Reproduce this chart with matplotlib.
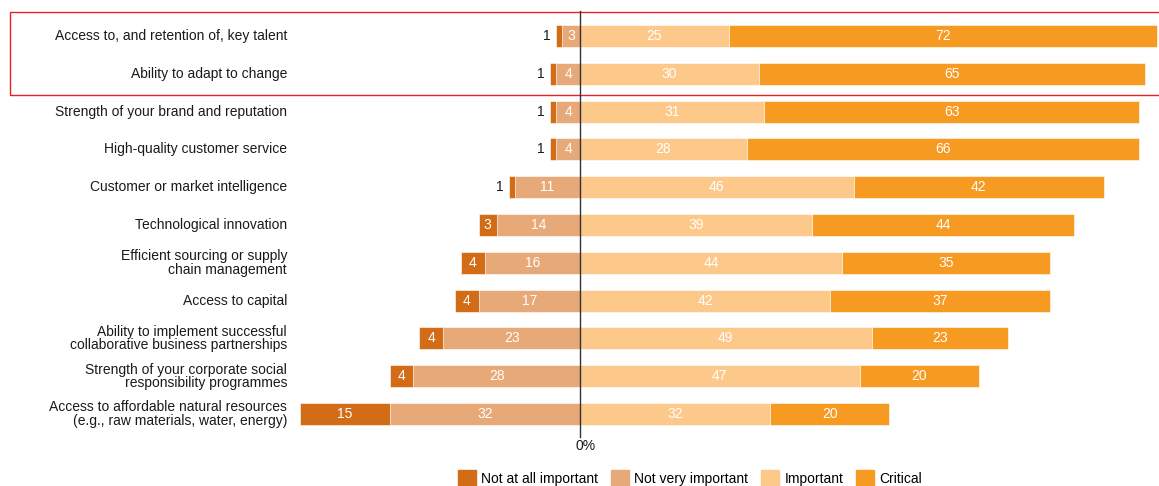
import matplotlib.pyplot as plt
from matplotlib.patches import Rectangle

categories = [
    "Access to, and retention of, key talent",
    "Ability to adapt to change",
    "Strength of your brand and reputation",
    "High-quality customer service",
    "Customer or market intelligence",
    "Technological innovation",
    "Efficient sourcing or supply\nchain management",
    "Access to capital",
    "Ability to implement successful\ncollaborative business partnerships",
    "Strength of your corporate social\nresponsibility programmes",
    "Access to affordable natural resources\n(e.g., raw materials, water, energy)",
]
not_at_all = [1, 1, 1, 1, 1, 3, 4, 4, 4, 4, 15]
not_very = [3, 4, 4, 4, 11, 14, 16, 17, 23, 28, 32]
important = [25, 30, 31, 28, 46, 39, 44, 42, 49, 47, 32]
critical = [72, 65, 63, 66, 42, 44, 35, 37, 23, 20, 20]
series_names = ["Not at all important", "Not very important", "Important", "Critical"]
colors = ["#D26C17", "#E6A977", "#FDC98B", "#F79A22"]

plt.rcParams['font.family'] = ['Liberation Sans', 'DejaVu Sans']

W, H = 1159, 486
fig = plt.figure(figsize=(W / 100, H / 100), dpi=100)
ax_left_px, ax_right_px = 290, 1159
zero_px = 580
ppu = 5.95
xmin = -(zero_px - ax_left_px) / ppu
xmax = (ax_right_px - zero_px) / ppu
ax = fig.add_axes([ax_left_px / W, 1 - 433 / H, (ax_right_px - ax_left_px) / W, (433 - 17) / H])
ax.set_xlim(xmin, xmax)
ax.set_ylim(len(categories) - 0.5, -0.5)
ax.axis('off')

bh = 0.58
ys = list(range(len(categories)))
fs = 10
vfs = 10
for i, y in enumerate(ys):
    nv = not_very[i]
    na = not_at_all[i]
    imp = important[i]
    cr = critical[i]
    # left side
    ax.barh(y, -nv, left=0, height=bh, color=colors[1], edgecolor='white', linewidth=0.4)
    ax.barh(y, -na, left=-nv, height=bh, color=colors[0], edgecolor='white', linewidth=0.4)
    # right side
    ax.barh(y, imp, left=0, height=bh, color=colors[2], edgecolor='white', linewidth=0.4)
    ax.barh(y, cr, left=imp, height=bh, color=colors[3], edgecolor='white', linewidth=0.4)
    # labels
    ax.text(-nv / 2, y, str(nv), ha='center', va='center', color='white', fontsize=vfs)
    if na >= 3:
        ax.text(-nv - na / 2, y, str(na), ha='center', va='center', color='white', fontsize=vfs)
    else:
        ax.text(-nv - na - 0.9, y, str(na), ha='right', va='center', color='#1a1a1a', fontsize=vfs)
    ax.text(imp / 2, y, str(imp), ha='center', va='center', color='white', fontsize=vfs)
    ax.text(imp + cr / 2, y, str(cr), ha='center', va='center', color='white', fontsize=vfs)
    ax.text(xmin - 0.5, y, categories[i], ha='right', va='center', color='#1a1a1a',
            fontsize=fs, linespacing=0.95, clip_on=False)

# zero line
fig.add_artist(plt.Line2D([zero_px / W, zero_px / W], [1 - 11 / H, 1 - 437 / H],
                          color='#333333', linewidth=1.0))
fig.text(586 / W, 1 - 446 / H, "0%", ha='center', va='center', fontsize=fs, color='#1a1a1a')

# red highlight box
fig.add_artist(Rectangle((10 / W, 1 - 95 / H), (W + 5 - 10) / W, (95 - 12) / H,
                         fill=False, edgecolor='#E8202A', linewidth=1.0, transform=fig.transFigure))

# legend
handles = [Rectangle((0, 0), 1, 1, color=c) for c in colors]
fig.legend(handles, series_names, loc='center', bbox_to_anchor=(690 / W, 1 - 478 / H), ncol=4,
           frameon=False, fontsize=fs, handlelength=1.3, handleheight=1.3, handletextpad=0.4,
           columnspacing=0.9, borderaxespad=0, borderpad=0)

fig.savefig('out.png', dpi=100)
